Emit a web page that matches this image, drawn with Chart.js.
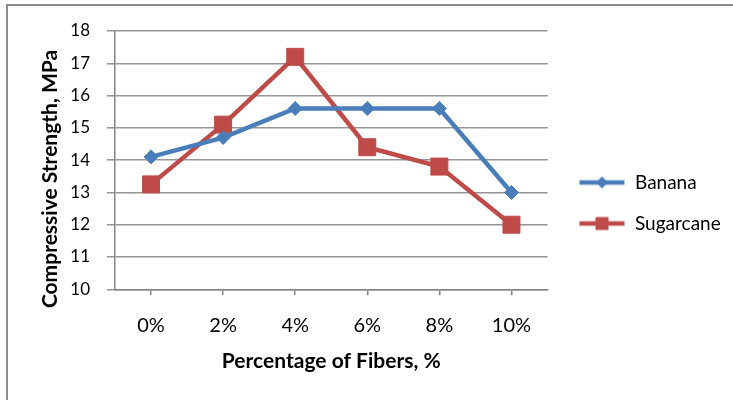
<!DOCTYPE html>
<html>
<head>
<meta charset="utf-8">
<script src="https://cdn.jsdelivr.net/npm/chart.js@4.4.0/dist/chart.umd.min.js"></script>
<style>
  html, body { margin: 0; padding: 0; background: #ffffff; }
  #wrap { width: 733px; height: 400px; position: relative; }
</style>
</head>
<body>
<div id="wrap"><canvas id="chart" width="733" height="400"></canvas></div>
<script>
// Fiber content categories and measured compressive strength (MPa)
const fiberPercent = ['0%', '2%', '4%', '6%', '8%', '10%'];
const banana = [14.1, 14.7, 15.6, 15.6, 15.6, 13.0];
const sugarcane = [13.25, 15.1, 17.2, 14.4, 13.8, 12.0];
const seriesNames = ['Banana', 'Sugarcane'];
const yMin = 10, yMax = 18, yStep = 1;
const xTitle = 'Percentage of Fibers, %';
const yTitle = 'Compressive Strength, MPa';

const BLUE = '#4A7EBB';
const RED = '#BE4B48';
const GRID = '#959595';
const AXIS = '#868686';
const FONT = 'Lato, "Open Sans", sans-serif';

// Legend icon: a short line with the series marker in the middle
function legendIcon(color, shape) {
  const w = 56, h = 20, lead = 10;
  const c = document.createElement('canvas');
  c.width = w; c.height = h;
  const g = c.getContext('2d');
  g.strokeStyle = color; g.fillStyle = color;
  g.lineWidth = 4.5; g.lineCap = 'butt';
  g.beginPath(); g.moveTo(lead, h / 2); g.lineTo(w - 1, h / 2); g.stroke();
  const cx = (lead + w - 1) / 2, cy = h / 2;
  g.beginPath();
  if (shape === 'diamond') {
    const r = 6;
    g.moveTo(cx, cy - r); g.lineTo(cx + r, cy); g.lineTo(cx, cy + r); g.lineTo(cx - r, cy); g.closePath();
  } else {
    const s = 6.5;
    g.rect(cx - s, cy - s, 2 * s, 2 * s);
  }
  g.fill();
  return c;
}
const icons = [legendIcon(BLUE, 'diamond'), legendIcon(RED, 'square')];

// White page with the thin grey frame on the left and top
const framePlugin = {
  id: 'frame',
  beforeDraw(chart) {
    const ctx = chart.ctx;
    ctx.save();
    ctx.fillStyle = '#ffffff';
    ctx.fillRect(0, 0, chart.width, chart.height);
    ctx.strokeStyle = '#8c8c8c';
    ctx.lineWidth = 2;
    ctx.beginPath();
    ctx.moveTo(7, chart.height);
    ctx.lineTo(7, 5);
    ctx.lineTo(chart.width, 5);
    ctx.stroke();
    ctx.restore();
  }
};

// Rotated value-axis title
const yTitlePlugin = {
  id: 'yTitle',
  afterDraw(chart) {
    const ctx = chart.ctx;
    ctx.save();
    ctx.translate(50, 179);
    ctx.rotate(-Math.PI / 2);
    ctx.font = 'bold 21px ' + FONT;
    ctx.fillStyle = '#000000';
    ctx.textAlign = 'center';
    ctx.textBaseline = 'middle';
    ctx.fillText(yTitle, 0, 0);
    ctx.restore();
  }
};

new Chart(document.getElementById('chart'), {
  type: 'line',
  data: {
    labels: fiberPercent,
    datasets: [
      {
        label: seriesNames[0],
        data: banana,
        borderColor: BLUE,
        backgroundColor: BLUE,
        borderWidth: 4.5,
        pointStyle: 'rectRot',
        pointRadius: 7,
        pointBorderWidth: 1,
        pointBackgroundColor: BLUE,
        pointBorderColor: BLUE,
        tension: 0
      },
      {
        label: seriesNames[1],
        data: sugarcane,
        borderColor: RED,
        backgroundColor: RED,
        borderWidth: 4.5,
        pointStyle: 'rect',
        pointRadius: 12,
        pointBorderWidth: 1,
        pointBackgroundColor: RED,
        pointBorderColor: RED,
        tension: 0
      }
    ]
  },
  options: {
    responsive: false,
    animation: false,
    layout: { padding: { left: 0, top: 31, right: 3, bottom: 25 } },
    plugins: {
      tooltip: { enabled: false },
      legend: {
        position: 'right',
        labels: {
          usePointStyle: true,
          pointStyleWidth: 56,
          padding: 22,
          color: '#000000',
          font: { family: FONT, size: 19, lineHeight: 1 },
          generateLabels(chart) {
            return chart.data.datasets.map((ds, i) => ({
              text: ds.label,
              pointStyle: icons[i],
              fillStyle: ds.borderColor,
              strokeStyle: ds.borderColor,
              lineWidth: 0,
              fontColor: '#000000',
              hidden: false,
              datasetIndex: i
            }));
          }
        }
      }
    },
    scales: {
      x: {
        type: 'category',
        offset: true,
        grid: { display: true, drawOnChartArea: false, drawTicks: true, tickLength: 6, color: AXIS, lineWidth: 1.5 },
        border: { display: true, color: AXIS, width: 1.5 },
        ticks: { padding: 18, color: '#000000', font: { family: FONT, size: 20 }, maxRotation: 0 },
        title: { display: true, text: xTitle, color: '#000000', font: { family: FONT, size: 21, weight: 'bold' }, padding: { top: 0, bottom: 1.5 } },
        afterFit(scale) { scale.height = 85.7; }
      },
      y: {
        min: yMin,
        max: yMax,
        ticks: { stepSize: yStep, padding: 17, color: '#000000', font: { family: FONT, size: 17 } },
        grid: { color: GRID, lineWidth: 1.5, tickLength: 8, drawTicks: true },
        border: { display: true, color: AXIS, width: 1.5 },
        afterFit(scale) { scale.width = 115; }
      }
    }
  },
  plugins: [framePlugin, yTitlePlugin]
});
</script>
</body>
</html>
